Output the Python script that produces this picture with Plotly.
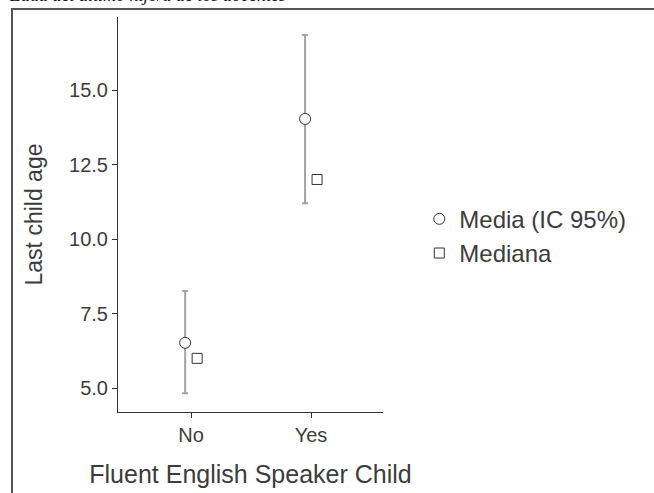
import plotly.graph_objects as go

categories = ["No", "Yes"]
cat_pos = [1, 2]
mean_vals = [6.52, 14.03]
ci_low = [4.83, 11.2]
ci_high = [8.26, 16.85]
median_vals = [6.0, 12.0]
y_tick_vals = [5.0, 7.5, 10.0, 12.5, 15.0]
y_tick_text = ["5.0", "7.5", "10.0", "12.5", "15.0"]

offset = 0.05
FONT = "Liberation Sans, Arial, sans-serif"
TXT = "#3c3c3c"

fig = go.Figure()
fig.add_trace(go.Scatter(
    x=[p - offset for p in cat_pos], y=mean_vals, mode="markers",
    name="Media (IC 95%)",
    marker=dict(symbol="circle", size=11, color="white", line=dict(color="#333333", width=1)),
    error_y=dict(type="data", symmetric=False,
                 array=[h - m for h, m in zip(ci_high, mean_vals)],
                 arrayminus=[m - l for l, m in zip(ci_low, mean_vals)],
                 color="#a3a3a3", thickness=2, width=3),
))
fig.add_trace(go.Scatter(
    x=[p + offset for p in cat_pos], y=median_vals, mode="markers",
    name="Mediana",
    marker=dict(symbol="square", size=10, color="white", line=dict(color="#333333", width=1)),
))

fig.update_layout(
    width=654, height=493,
    margin=dict(l=118, r=271, t=17, b=81),
    paper_bgcolor="white", plot_bgcolor="white",
    font=dict(family=FONT, color=TXT),
    showlegend=True,
    legend=dict(x=1.137, y=0.445, xanchor="left", yanchor="middle",
                font=dict(size=24, color=TXT), itemsizing="trace",
                tracegroupgap=0, bgcolor="rgba(0,0,0,0)"),
    xaxis=dict(range=[0.39, 2.6], tickvals=cat_pos, ticktext=categories,
               showline=True, linecolor="#333333", linewidth=1, mirror=False,
               ticks="outside", ticklen=5, tickcolor="#333333",
               showgrid=False, zeroline=False, automargin=False,
               tickfont=dict(size=20, color=TXT),
               title=dict(text="Fluent English Speaker Child", font=dict(size=25, color=TXT), standoff=20)),
    yaxis=dict(range=[4.2, 17.45], tickvals=y_tick_vals, ticktext=y_tick_text,
               showline=True, linecolor="#333333", linewidth=1,
               ticks="outside", ticklen=5, tickcolor="#333333",
               showgrid=False, zeroline=False, automargin=False,
               tickfont=dict(size=20, color=TXT),
               title=dict(text="Last child age", font=dict(size=23, color=TXT), standoff=20)),
)

fig.add_shape(type="rect", xref="paper", yref="paper",
              x0=-0.4, x1=3.0, y0=-1.0, y1=1.0203,
              line=dict(color="#555555", width=2), fillcolor="rgba(0,0,0,0)", layer="below")

fig.add_annotation(text="<i>Edad del último hijo/a de los docentes</i>",
                   xref="paper", yref="paper", x=-0.42, y=1.026,
                   xanchor="left", yanchor="bottom", showarrow=False,
                   font=dict(family="Liberation Serif, Times New Roman, serif", size=18, color="#111111"))

fig.write_html("out.html", config={"displayModeBar": False},
               post_script="document.body.style.margin='0';")
